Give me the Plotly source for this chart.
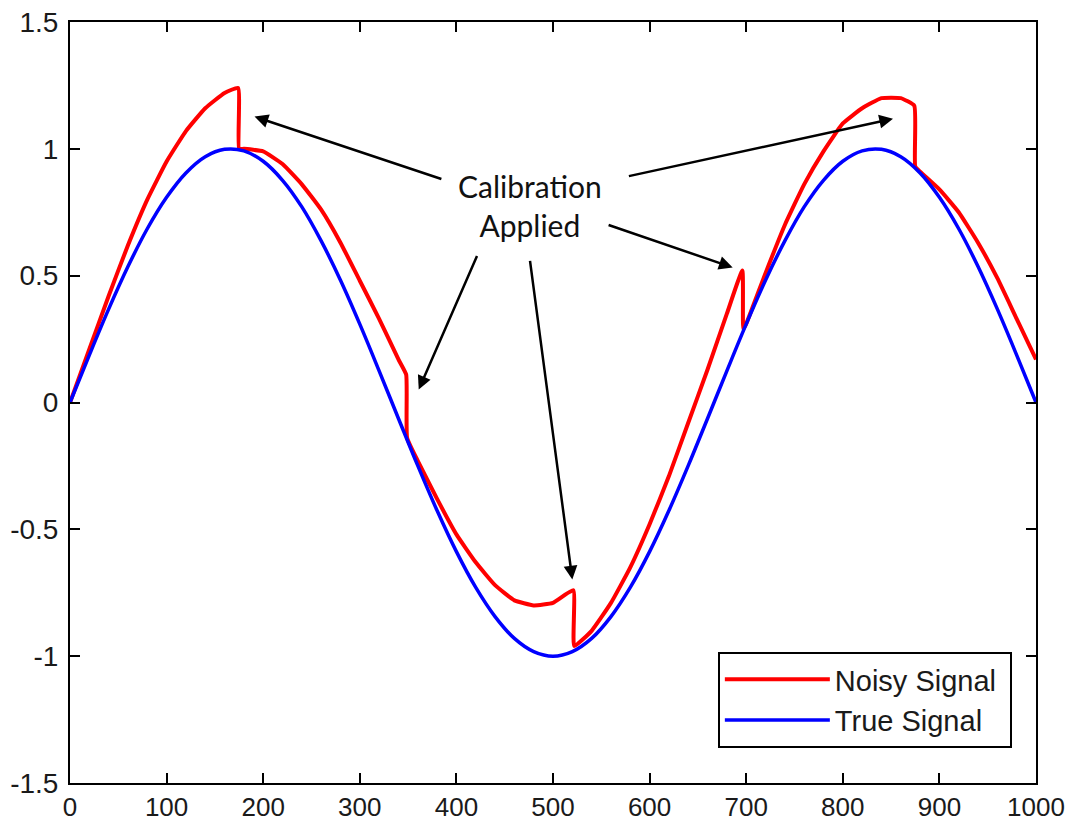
import plotly.graph_objects as go

# ---- data ----
true_x = [0, 20, 40, 60, 80, 100, 120, 140, 160, 180, 200, 220, 240, 260, 280, 300,
          320, 340, 360, 380, 400, 420, 440, 460, 480, 500, 520, 540, 560, 580, 600,
          620, 640, 660, 680, 700, 720, 740, 760, 780, 800, 820, 840, 860, 880, 900,
          920, 940, 960, 980, 1000]
true_y = [0.0, 0.187, 0.368, 0.536, 0.685, 0.809, 0.905, 0.969, 0.998, 0.992, 0.951,
          0.876, 0.771, 0.637, 0.482, 0.309, 0.125, -0.063, -0.249, -0.426, -0.588,
          -0.729, -0.844, -0.930, -0.982, -1.0, -0.982, -0.930, -0.844, -0.729, -0.588,
          -0.426, -0.249, -0.063, 0.125, 0.309, 0.482, 0.637, 0.771, 0.876, 0.951,
          0.992, 0.998, 0.969, 0.905, 0.809, 0.685, 0.536, 0.368, 0.187, 0.0]

noisy_x = [0, 20, 40, 60, 80, 100, 120, 140, 160, 174,
           175, 180, 200, 220, 240, 260, 280, 300, 320, 340, 348,
           349, 360, 380, 400, 420, 440, 460, 480, 500, 521,
           522, 540, 560, 580, 600, 620, 640, 660, 680, 696,
           697, 700, 720, 740, 760, 780, 800, 820, 840, 860, 874,
           875, 880, 900, 920, 940, 960, 980, 1000]
noisy_y = [0.0, 0.21, 0.42, 0.62, 0.80, 0.95, 1.07, 1.16, 1.22, 1.24,
           1.00, 1.00, 0.99, 0.94, 0.86, 0.76, 0.63, 0.48, 0.33, 0.17, 0.11,
           -0.14, -0.23, -0.38, -0.52, -0.63, -0.72, -0.78, -0.80, -0.79, -0.74,
           -0.96, -0.90, -0.79, -0.65, -0.48, -0.29, -0.08, 0.13, 0.35, 0.52,
           0.29, 0.31, 0.51, 0.70, 0.86, 0.99, 1.10, 1.16, 1.20, 1.20, 1.17,
           0.93, 0.91, 0.84, 0.75, 0.63, 0.49, 0.33, 0.17]

x_ticks = [0, 100, 200, 300, 400, 500, 600, 700, 800, 900, 1000]
x_tick_text = ["0", "100", "200", "300", "400", "500", "600", "700", "800", "900", "1000"]
y_ticks = [-1.5, -1, -0.5, 0, 0.5, 1, 1.5]
y_tick_text = ["-1.5", "-1", "-0.5", "0", "0.5", "1", "1.5"]

# arrow heads (points) and tails, in data units
arrow_head_x = [191, 361, 520, 686, 852]
arrow_head_y = [1.127, 0.051, -0.698, 0.532, 1.119]
arrow_tail_x = [386, 422, 476, 556, 577]
arrow_tail_y = [0.879, 0.583, 0.564, 0.702, 0.891]
label_text = "Calibration<br>Applied"
label_pos = (476, 0.776)

fig = go.Figure()
fig.add_trace(go.Scatter(x=noisy_x, y=noisy_y, mode="lines", name="Noisy Signal\u00a0",
                         line=dict(color="#ff0000", width=4, shape="spline", smoothing=0.4)))
fig.add_trace(go.Scatter(x=true_x, y=true_y, mode="lines", name="True Signal",
                         line=dict(color="#0000ff", width=3.5, shape="spline", smoothing=1)))

axis_common = dict(showgrid=False, zeroline=False, showline=True, linecolor="#000000",
                   linewidth=2, mirror="allticks", ticks="inside", ticklen=10,
                   tickwidth=2, tickcolor="#000000", automargin=False,
                   ticklabeloverflow="allow")

fig.update_xaxes(range=[0, 1000], tickvals=x_ticks, ticktext=x_tick_text,
                 ticklabelstandoff=0,
                 tickfont=dict(family="Liberation Sans, Arial, sans-serif", size=26,
                               color="#1a1a1a"),
                 **axis_common)
fig.update_yaxes(range=[-1.5, 1.5], tickvals=y_ticks, ticktext=y_tick_text,
                 ticklabelstandoff=4,
                 tickfont=dict(family="Liberation Sans, Arial, sans-serif", size=28,
                               color="#1a1a1a"),
                 **axis_common)

for hx, hy, tx, ty in zip(arrow_head_x, arrow_head_y, arrow_tail_x, arrow_tail_y):
    fig.add_annotation(x=hx, y=hy, ax=tx, ay=ty, xref="x", yref="y", axref="x", ayref="y",
                       text="", showarrow=True, arrowhead=2, arrowsize=1.1,
                       arrowwidth=2.5, arrowcolor="#000000", standoff=0, startstandoff=0)

fig.add_annotation(x=label_pos[0], y=label_pos[1], xref="x", yref="y", text=label_text,
                   showarrow=False,
                   font=dict(family="Lato, Open Sans, sans-serif", size=30, color="#111111"))

fig.update_layout(
    width=1065, height=815,
    margin=dict(l=62, r=37, t=14, b=40, autoexpand=False),
    paper_bgcolor="white", plot_bgcolor="white",
    showlegend=True,
    legend=dict(x=0.975, y=0.046, xanchor="right", yanchor="bottom",
                bgcolor="white", bordercolor="#000000", borderwidth=2,
                font=dict(family="Liberation Sans, Arial, sans-serif", size=29,
                          color="#1a1a1a"),
                itemwidth=105),
)

fig.write_html("out.html")
